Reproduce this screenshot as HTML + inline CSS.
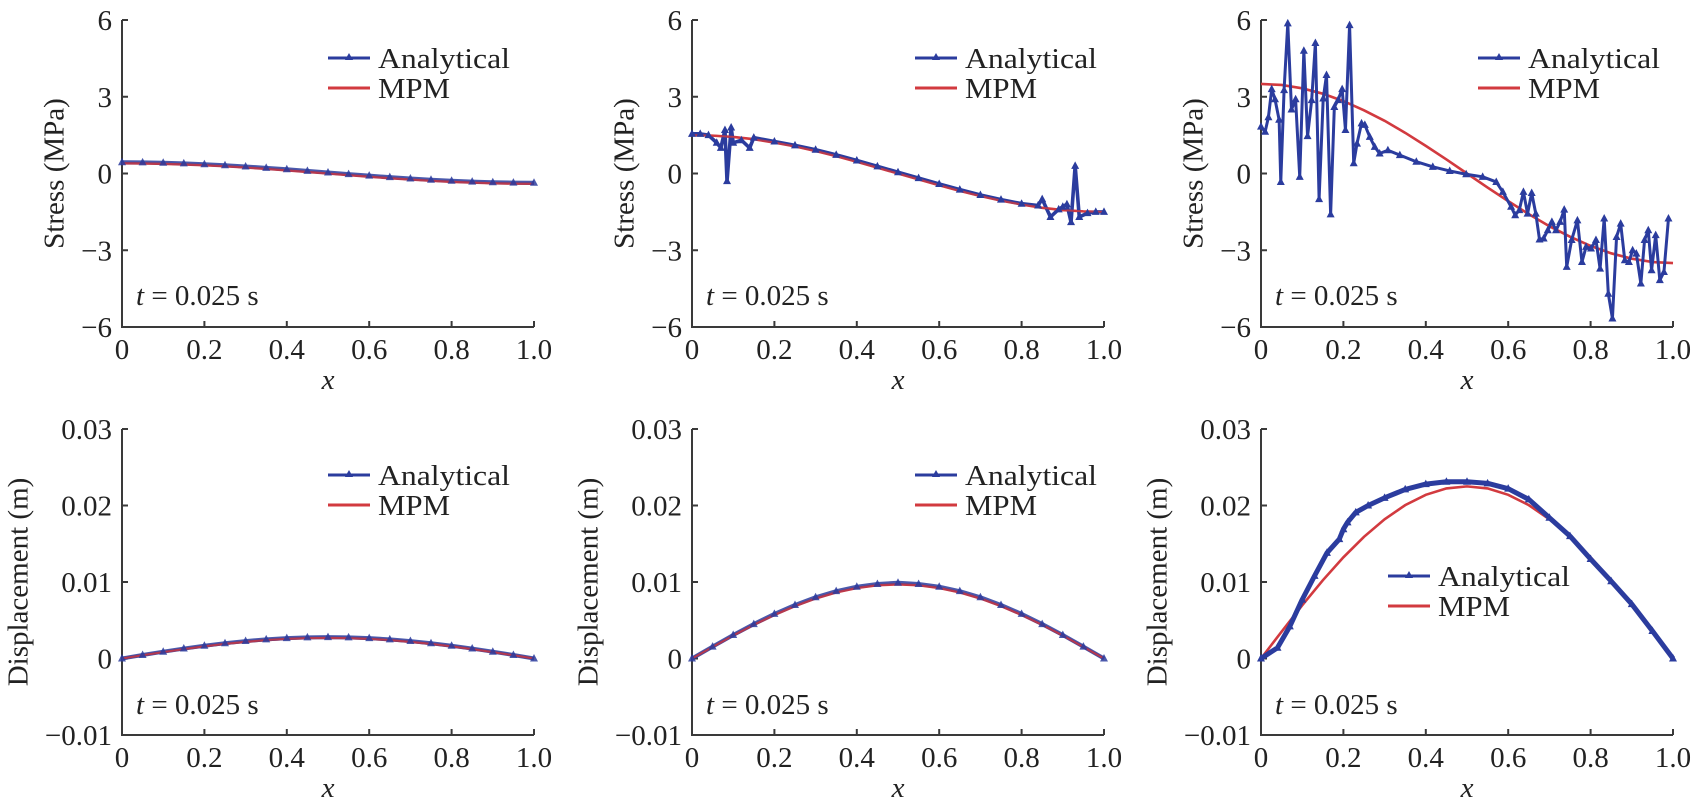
<!DOCTYPE html>
<html><head><meta charset="utf-8"><style>
html,body{margin:0;padding:0;background:#fff;}
svg{display:block;font-family:"Liberation Serif","DejaVu Serif",serif;}
</style></head><body>
<svg id="fig" width="1698" height="802" viewBox="0 0 1698 802" xmlns="http://www.w3.org/2000/svg"></svg>
<script>
// ---------- data ----------
const xs05 = [0,0.05,0.1,0.15,0.2,0.25,0.3,0.35,0.4,0.45,0.5,0.55,0.6,0.65,0.7,0.75,0.8,0.85,0.9,0.95,1.0];
// Stress panel 1
const s1Mpm = [0.40,0.395,0.38,0.356,0.324,0.283,0.235,0.182,0.124,0.062,0,-0.062,-0.124,-0.182,-0.235,-0.283,-0.324,-0.356,-0.38,-0.395,-0.40];
const s1Ana = [0.44,0.435,0.42,0.396,0.364,0.323,0.275,0.222,0.164,0.102,0.04,-0.022,-0.084,-0.142,-0.195,-0.243,-0.284,-0.316,-0.34,-0.355,-0.36];
// Stress panel 2
const s2Mpm = [1.5,1.48,1.43,1.34,1.21,1.06,0.88,0.68,0.46,0.23,0,-0.23,-0.46,-0.68,-0.88,-1.06,-1.21,-1.34,-1.43,-1.48,-1.5];
const s2AnaX = [0,0.02,0.04,0.06,0.07,0.08,0.085,0.095,0.1,0.12,0.14,0.15,0.2,0.25,0.3,0.35,0.4,0.45,0.5,0.55,0.6,0.65,0.7,0.75,0.8,0.84,0.85,0.87,0.89,0.9,0.91,0.92,0.93,0.94,0.96,0.98,1.0];
const s2AnaY = [1.55,1.55,1.5,1.2,1.0,1.7,-0.3,1.8,1.2,1.3,1.0,1.4,1.25,1.1,0.93,0.73,0.51,0.28,0.05,-0.18,-0.41,-0.63,-0.84,-1.02,-1.18,-1.25,-1.0,-1.7,-1.4,-1.3,-1.2,-1.9,0.3,-1.7,-1.55,-1.5,-1.5];
// Stress panel 3
const s3Mpm = [3.5,3.46,3.33,3.12,2.83,2.47,2.06,1.59,1.08,0.55,0,-0.55,-1.08,-1.59,-2.06,-2.47,-2.83,-3.12,-3.33,-3.46,-3.5];
const s3AnaX = [0,0.01,0.018,0.026,0.034,0.044,0.048,0.056,0.065,0.074,0.084,0.094,0.104,0.113,0.123,0.132,0.141,0.151,0.159,0.169,0.178,0.187,0.197,0.205,0.215,0.225,0.233,0.244,0.252,0.264,0.276,0.288,0.308,0.337,0.377,0.417,0.458,0.498,0.538,0.571,0.587,0.607,0.617,0.627,0.637,0.647,0.657,0.667,0.676,0.686,0.696,0.706,0.716,0.726,0.736,0.742,0.754,0.768,0.779,0.789,0.801,0.813,0.823,0.833,0.843,0.853,0.863,0.873,0.883,0.893,0.902,0.911,0.922,0.931,0.940,0.948,0.958,0.968,0.978,0.989];
const s3AnaY = [1.83,1.63,2.2,3.3,2.9,2.1,-0.33,3.26,5.87,2.5,2.9,-0.13,4.8,1.46,2.87,5.1,-1.0,2.93,3.85,-1.6,2.6,2.87,3.3,1.7,5.8,0.4,1.17,1.96,1.9,1.43,1.04,0.78,0.91,0.72,0.46,0.26,0.1,-0.03,-0.13,-0.33,-0.72,-1.3,-1.63,-1.43,-0.72,-1.57,-0.76,-1.57,-2.58,-2.54,-2.22,-1.89,-2.22,-1.89,-1.41,-3.65,-2.6,-1.83,-3.46,-2.87,-2.93,-2.6,-3.72,-1.76,-4.7,-5.67,-2.48,-1.96,-3.39,-3.46,-3.0,-3.13,-4.3,-2.6,-2.22,-3.78,-2.41,-4.17,-3.85,-1.76];
// Displacement
const d1Mpm = [0,0.00042,0.00083,0.00123,0.00159,0.00191,0.00218,0.00241,0.00257,0.00267,0.0027,0.00267,0.00257,0.00241,0.00218,0.00191,0.00159,0.00123,0.00083,0.00042,0];
const d1Ana = [0,0.00046,0.00089,0.0013,0.00167,0.002,0.00228,0.0025,0.00266,0.00276,0.0028,0.00276,0.00266,0.0025,0.00228,0.002,0.00167,0.0013,0.00089,0.00046,0];
const d2Mpm = [0,0.00151,0.003,0.0044,0.0057,0.00686,0.00785,0.00864,0.00922,0.00958,0.0097,0.00958,0.00922,0.00864,0.00785,0.00686,0.0057,0.0044,0.003,0.00151,0];
const d2Ana = [0,0.00155,0.00307,0.0045,0.00583,0.007,0.008,0.0088,0.00938,0.00974,0.0099,0.00974,0.00938,0.0088,0.008,0.007,0.00583,0.0045,0.00307,0.00155,0];
const d3Mpm = [0,0.00351,0.00695,0.01022,0.01323,0.01591,0.0182,0.02005,0.0214,0.02223,0.0225,0.02223,0.0214,0.02005,0.0182,0.01591,0.01323,0.01022,0.00695,0.00351,0];
const d3AnaX = [0,0.04,0.07,0.1,0.13,0.16,0.19,0.2,0.21,0.23,0.26,0.3,0.35,0.4,0.45,0.5,0.55,0.6,0.65,0.7,0.75,0.8,0.85,0.9,0.95,1.0];
const d3AnaY = [0,0.0014,0.0042,0.0077,0.0108,0.0138,0.0156,0.0169,0.0178,0.0191,0.02,0.021,0.0221,0.0228,0.0231,0.0231,0.0229,0.0222,0.0208,0.0184,0.016,0.013,0.0101,0.0071,0.0036,0];
const xTicks = [0,0.2,0.4,0.6,0.8,1.0];
const xTickLabels = ["0","0.2","0.4","0.6","0.8","1.0"];
const stressTicks = [-6,-3,0,3,6];
const stressTickLabels = ["\u22126","\u22123","0","3","6"];
const dispTicks = [-0.01,0,0.01,0.02,0.03];
const dispTickLabels = ["\u22120.01","0","0.01","0.02","0.03"];

// ---------- drawing ----------
const NS = "http://www.w3.org/2000/svg";
const svgRoot = document.getElementById("fig");
const BLUE = "#2b3c9e", RED = "#d23a3f", AX = "#3a3a3a";
function mk(tag, attrs, parent){ const e=document.createElementNS(NS,tag); for(const k in attrs) e.setAttribute(k,attrs[k]); (parent||svgRoot).appendChild(e); return e; }

function panel(cfg){
  const g = mk("g",{});
  
  
  const X = v => cfg.x0 + v*cfg.w;
  const Y = v => cfg.yTop + (cfg.yMax - v)/(cfg.yMax - cfg.yMin)*(cfg.yBot - cfg.yTop);
  const ax = mk("path",{d:`M${cfg.x0},${cfg.yTop} V${cfg.yBot} H${X(1)}`,fill:"none",stroke:AX,"stroke-width":2},g);
  
  
  xTicks.forEach((t,i)=>{
    mk("line",{x1:X(t),x2:X(t),y1:cfg.yBot,y2:cfg.yBot-6,stroke:AX,"stroke-width":2},g);
    const tx = mk("text",{x:X(t),y:cfg.yBot+32,"font-size":29,"text-anchor":"middle",fill:"#222"},g);
    tx.textContent = xTickLabels[i];
    
    
  });
  cfg.yTicks.forEach((t,i)=>{
    mk("line",{x1:cfg.x0,x2:cfg.x0+6,y1:Y(t),y2:Y(t),stroke:AX,"stroke-width":2},g);
    const tx = mk("text",{x:cfg.x0-10,y:Y(t)+10,"font-size":29,"text-anchor":"end",fill:"#222"},g);
    tx.textContent = cfg.yLabels[i];
    
    
  });
  const xl = mk("text",{x:X(0.5),y:cfg.yBot+62,"font-size":29,"font-style":"italic","text-anchor":"middle",fill:"#222"},g);
  xl.textContent = "x";
  
  
  const yc = (cfg.yTop+cfg.yBot)/2;
  const yl = mk("text",{x:cfg.ylx,y:yc,"font-size":29,"text-anchor":"middle",fill:"#222",transform:`rotate(-90 ${cfg.ylx} ${yc})`,"dominant-baseline":"middle"},g);
  yl.textContent = cfg.ytitle;
  
  
  const tl = mk("text",{x:cfg.x0+14,y:cfg.tY,"font-size":29,fill:"#222"},g);
  const ti = mk("tspan",{"font-style":"italic"},tl);
  ti.textContent = "t";
  const tr = mk("tspan",{},tl);
  tr.textContent = " = 0.025 s";
  
  
  const mp = mk("polyline",{points:xs05.map((x,i)=>`${X(x)},${Y(cfg.mpm[i])}`).join(" "),fill:"none",stroke:RED,"stroke-width":2.6},g);
  
  
  const al = mk("polyline",{points:cfg.ax.map((x,i)=>`${X(x)},${Y(cfg.ay[i])}`).join(" "),fill:"none",stroke:BLUE,"stroke-width":cfg.aw||2.4,opacity:cfg.aop||1,"stroke-linejoin":"round"},g);
  
  
  if (cfg.redOnTop) {
    const mp2 = mk("polyline",{points:xs05.map((x,i)=>`${X(x)},${Y(cfg.mpm[i])}`).join(" "),fill:"none",stroke:RED,"stroke-width":2,opacity:0.8},g);
    
    
  }
  cfg.ax.forEach((x,i)=>{
    const px=X(x), py=Y(cfg.ay[i]);
    const m = mk("path",{d:`M${px},${py-4.5} L${px+4},${py+3} L${px-4},${py+3}Z`,fill:BLUE,opacity:cfg.aop||1},g);
    
    
  });
  const lg = mk("g",{},g);
  
  
  const lx=cfg.lx, ly=cfg.ly;
  mk("line",{x1:lx,x2:lx+42,y1:ly,y2:ly,stroke:BLUE,"stroke-width":3},lg);
  mk("path",{d:`M${lx+21},${ly-5} L${lx+25},${ly+2} L${lx+17},${ly+2}Z`,fill:BLUE},lg);
  const t1 = mk("text",{x:lx+50,y:ly+10,"font-size":29,fill:"#222",textLength:132,lengthAdjust:"spacingAndGlyphs"},lg);
  t1.textContent="Analytical";
  
  
  mk("line",{x1:lx,x2:lx+42,y1:ly+30,y2:ly+30,stroke:RED,"stroke-width":3},lg);
  const t2 = mk("text",{x:lx+50,y:ly+40,"font-size":29,fill:"#222",textLength:72,lengthAdjust:"spacingAndGlyphs"},lg);
  t2.textContent="MPM";
  
  
}
const W = 412;
const topCfg = {yTop:20,yBot:327,yMin:-6,yMax:6,yTicks:stressTicks,yLabels:stressTickLabels,ytitle:"Stress (MPa)",tY:305};
const botCfg = {yTop:429,yBot:735,yMin:-0.01,yMax:0.03,yTicks:dispTicks,yLabels:dispTickLabels,ytitle:"Displacement (m)",tY:714};
panel(Object.assign({},topCfg,{name:"stress-panel-1",x0:122,w:W,ylx:57,mpm:s1Mpm,ax:xs05,ay:s1Ana,aw:4,aop:0.85,redOnTop:true,lx:328,ly:58}));
panel(Object.assign({},topCfg,{name:"stress-panel-2",x0:692,w:W,ylx:627,mpm:s2Mpm,ax:s2AnaX,ay:s2AnaY,aw:3.6,redOnTop:true,lx:915,ly:58}));
panel(Object.assign({},topCfg,{name:"stress-panel-3",x0:1261,w:W,ylx:1196,mpm:s3Mpm,ax:s3AnaX,ay:s3AnaY,aw:3,lx:1478,ly:58}));
panel(Object.assign({},botCfg,{name:"displacement-panel-1",x0:122,w:W,ylx:21,mpm:d1Mpm,ax:xs05,ay:d1Ana,aw:4,aop:0.85,redOnTop:true,lx:328,ly:475}));
panel(Object.assign({},botCfg,{name:"displacement-panel-2",x0:692,w:W,ylx:591,mpm:d2Mpm,ax:xs05,ay:d2Ana,aw:4,aop:0.85,redOnTop:true,lx:915,ly:475}));
panel(Object.assign({},botCfg,{name:"displacement-panel-3",x0:1261,w:W,ylx:1160,mpm:d3Mpm,ax:d3AnaX,ay:d3AnaY,aw:5,lx:1388,ly:576}));
</script>
</body></html>
